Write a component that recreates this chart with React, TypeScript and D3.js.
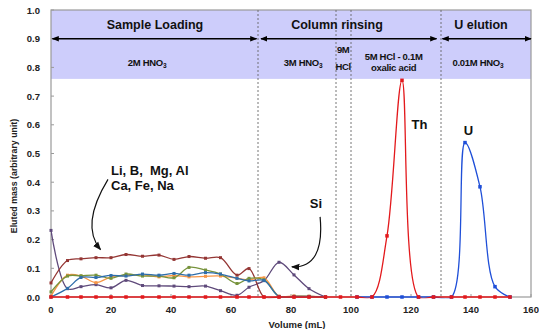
import React from "react";
import * as d3 from "d3";

// sampling volumes (mL) for the matrix elements
const volumes = [0, 5.5, 10, 15, 20, 25, 30.5, 36, 41, 46, 51.5, 56.5, 62, 66, 71, 76, 81, 86, 91.5];
const brownVals = [0.049, 0.127, 0.133, 0.137, 0.137, 0.148, 0.142, 0.146, 0.131, 0.141, 0.135, 0.137, 0.076, 0.099, 0, 0, 0, 0, 0];
const purpleVals = [0.232, 0.029, 0.036, 0.043, 0.032, 0.058, 0.04, 0.039, 0.038, 0.036, 0.038, 0.022, 0.006, 0.034, 0.057, 0.121, 0.077, 0.029, 0];
const orangeVals = [0.003, 0.076, 0.073, 0.05, 0.07, 0.075, 0.077, 0.07, 0.075, 0.07, 0.072, 0.073, 0.065, 0.06, 0.067, 0.003, 0.004, 0.003, 0];
const greenVals = [0.018, 0.073, 0.074, 0.076, 0.065, 0.08, 0.073, 0.073, 0.067, 0.103, 0.094, 0.08, 0.047, 0.065, 0.06, 0.002, 0.002, 0.002, 0];
const blueVals = [0, 0.03, 0.068, 0.068, 0.075, 0.073, 0.08, 0.076, 0.082, 0.076, 0.085, 0.08, 0.065, 0.056, 0.058, 0.002, 0.002, 0.002, 0];

// Th and U
const lateVolumes = [96.5, 102, 107, 112, 117, 122.5, 127.5, 133.5, 138, 143, 148, 153];
const thVolumes = volumes.concat(lateVolumes);
const thVals = [...volumes.map(() => 0), 0, 0, 0, 0.213, 0.755, 0, 0, 0, 0, 0, 0, 0];
const uVolumes = lateVolumes.slice(1);
const uVals = [0, 0, 0, 0, 0, 0, 0, 0.538, 0.384, 0.036, 0];

const xTicks = [0, 20, 40, 60, 80, 100, 120, 140, 160];
const yTicks = [0, 0.1, 0.2, 0.3, 0.4, 0.5, 0.6, 0.7, 0.8, 0.9, 1.0];
const stepBounds = [69, 95, 100, 130];

const matrixSeries = [
  { name: "purple", vals: purpleVals, color: "#5f4a7b" },
  { name: "brown", vals: brownVals, color: "#943634" },
  { name: "orange", vals: orangeVals, color: "#f79646" },
  { name: "green", vals: greenVals, color: "#77933c" },
  { name: "blue", vals: blueVals, color: "#2f6eab" },
];

const font = "'Liberation Sans', Arial, sans-serif";

const App = () => {
  const width = 539;
  const height = 329;
  const x = d3.scaleLinear().domain([0, 160]).range([51, 531]);
  const y = d3.scaleLinear().domain([0, 1]).range([297, 10]);

  const line = d3
    .line<[number, number]>()
    .x((d) => x(d[0]))
    .y((d) => y(d[1]))
    .curve(d3.curveCatmullRom);

  const pts = (vs: number[], ys: number[]) => vs.map((v, i) => [v, ys[i]] as [number, number]);

  const drawSeries = (key: string, p: [number, number][], color: string, size: number) => (
    <g key={key}>
      <path d={line(p) || ""} fill="none" stroke={color} strokeWidth={1.3} clipPath="url(#plotClip)" />
      {p.map((d, i) => (
        <rect
          key={i}
          x={x(d[0]) - size / 2}
          y={y(d[1]) - size / 2}
          width={size}
          height={size}
          fill={color}
        />
      ))}
    </g>
  );

  const arrowY = y(0.9);
  const bands = [
    { from: 0.5, to: 68.5 },
    { from: 70, to: 128.5 },
    { from: 130.5, to: 160 },
  ];

  // curved annotation arrows (data coords)
  const curve1 = { s: [19, 0.41], c: [9.7, 0.25], e: [16.5, 0.165] };
  const curve2 = { s: [89.7, 0.279], c: [91.3, 0.101], e: [80.3, 0.105] };
  const qpath = (a: { s: number[]; c: number[]; e: number[] }) =>
    `M${x(a.s[0])},${y(a.s[1])} Q${x(a.c[0])},${y(a.c[1])} ${x(a.e[0])},${y(a.e[1])}`;

  const boldText = { fontFamily: font, fontWeight: 700 as const };

  return (
    <svg width={width} height={height} style={{ position: "absolute", left: 0, top: 0, background: "#fff" }}>
      <defs>
        <clipPath id="plotClip">
          <rect x={x(0)} y={y(1)} width={x(160) - x(0)} height={y(0) - y(1) + 1.2} />
        </clipPath>
        <marker id="head" viewBox="0 0 10 10" refX={9} refY={5} markerWidth={5} markerHeight={5} orient="auto-start-reverse">
          <path d="M0,1 L10,5 L0,9 z" fill="#000" />
        </marker>
        <marker id="head2" viewBox="0 0 10 10" refX={9} refY={5} markerWidth={7} markerHeight={7} orient="auto">
          <path d="M0,1 L10,5 L0,9 z" fill="#111" />
        </marker>
      </defs>

      {/* shaded step band */}
      <rect x={x(0)} y={y(1)} width={x(160) - x(0)} height={y(0.76) - y(1)} fill="#cdcdfb" />

      {/* frame */}
      <rect x={x(0)} y={y(1)} width={x(160) - x(0)} height={y(0) - y(1)} fill="none" stroke="#9a9a9a" strokeWidth={1.2} />

      {/* step boundaries */}
      {stepBounds.map((b) => (
        <line key={b} x1={x(b)} x2={x(b)} y1={y(1)} y2={y(0)} stroke="#666" strokeWidth={0.9} strokeDasharray="2,2" />
      ))}

      {/* y axis */}
      {yTicks.map((t) => (
        <g key={t}>
          <line x1={x(0)} x2={x(0) + 3} y1={y(t)} y2={y(t)} stroke="#9a9a9a" />
          <text x={40} y={y(t) + 3.5} textAnchor="end" fontSize={9.5} {...boldText} fill="#222">
            {d3.format(".1f")(t)}
          </text>
        </g>
      ))}
      {/* x axis */}
      {xTicks.map((t) => (
        <g key={t}>
          <line x1={x(t)} x2={x(t)} y1={y(0)} y2={y(0) - 3} stroke="#9a9a9a" />
          <text x={x(t)} y={313} textAnchor="middle" fontSize={9.5} {...boldText} fill="#222">
            {t}
          </text>
        </g>
      ))}
      <text x={297} y={328} textAnchor="middle" fontSize={9.5} {...boldText} fill="#222">
        Volume (mL)
      </text>
      <text transform="translate(17,176) rotate(-90)" textAnchor="middle" fontSize={8.8} {...boldText} fill="#222">
        Eluted mass (arbitrary unit)
      </text>

      {/* step arrows */}
      {bands.map((b, i) => (
        <line
          key={i}
          x1={x(b.from)}
          x2={x(b.to)}
          y1={arrowY}
          y2={arrowY}
          stroke="#000"
          strokeWidth={1.4}
          markerStart="url(#head)"
          markerEnd="url(#head)"
        />
      ))}

      {/* step titles */}
      <text x={155} y={28.5} textAnchor="middle" fontSize={12.5} {...boldText} fill="#111">Sample Loading</text>
      <text x={337} y={28.5} textAnchor="middle" fontSize={12.5} {...boldText} fill="#111">Column rinsing</text>
      <text x={481} y={28.5} textAnchor="middle" fontSize={12.5} {...boldText} fill="#111">U elution</text>

      {/* reagents */}
      <g fontSize={9.5} fill="#111" {...boldText} letterSpacing={-0.3}>
        <text x={x(32)} y={65.5} textAnchor="middle">
          2M HNO<tspan fontSize={6.5} dy={2}>3</tspan>
        </text>
        <text x={x(84)} y={65.5} textAnchor="middle">
          3M HNO<tspan fontSize={6.5} dy={2}>3</tspan>
        </text>
        <text x={x(97.4)} y={53} textAnchor="middle">9M</text>
        <text x={x(97.4)} y={69.5} textAnchor="middle">HCl</text>
        <text x={x(114.2)} y={60} textAnchor="middle">5M HCl - 0.1M</text>
        <text x={x(114.2)} y={70.5} textAnchor="middle">oxalic acid</text>
        <text x={x(142.3)} y={65.5} textAnchor="middle">
          0.01M HNO<tspan fontSize={6.5} dy={2}>3</tspan>
        </text>
      </g>

      {/* matrix element series */}
      {matrixSeries.map((s) => drawSeries(s.name, pts(volumes, s.vals), s.color, 3))}
      {drawSeries("U", pts(uVolumes, uVals), "#1f4fd8", 3.5)}
      {drawSeries("Th", pts(thVolumes, thVals), "#e3191c", 3.5)}

      {/* annotations */}
      <text x={111} y={174.5} fontSize={13} {...boldText} fill="#111">{"Li, B,\u00a0 Mg, Al"}</text>
      <text x={111} y={190} fontSize={13} {...boldText} fill="#111">Ca, Fe, Na</text>
      <path d={qpath(curve1)} fill="none" stroke="#111" strokeWidth={1.2} markerEnd="url(#head2)" />
      <text x={316} y={207.5} textAnchor="middle" fontSize={13} {...boldText} fill="#111">Si</text>
      <path d={qpath(curve2)} fill="none" stroke="#111" strokeWidth={1.2} markerEnd="url(#head2)" />
      <text x={419.5} y={128.5} textAnchor="middle" fontSize={13} {...boldText} fill="#111">Th</text>
      <text x={468.5} y={135} textAnchor="middle" fontSize={13} {...boldText} fill="#111">U</text>
    </svg>
  );
};

export default App;
